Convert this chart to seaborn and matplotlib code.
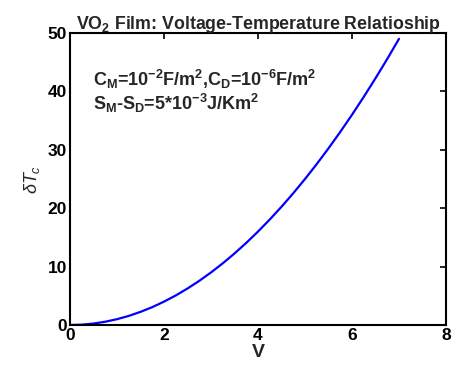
import numpy as np
import pandas as pd
import matplotlib
matplotlib.use('Agg')
import matplotlib.pyplot as plt
import seaborn as sns

# values
voltage = [0.0, 0.25, 0.5, 0.75, 1.0, 1.25, 1.5, 1.75, 2.0, 2.25, 2.5, 2.75, 3.0, 3.25, 3.5,
           3.75, 4.0, 4.25, 4.5, 4.75, 5.0, 5.25, 5.5, 5.75, 6.0, 6.25, 6.5, 6.75, 7.0]
delta_tc = [0.0, 0.06, 0.25, 0.56, 1.0, 1.56, 2.25, 3.06, 4.0, 5.06, 6.25, 7.56, 9.0, 10.56, 12.25,
            14.06, 16.0, 18.06, 20.25, 22.56, 25.0, 27.56, 30.25, 33.06, 36.0, 39.06, 42.25, 45.56, 49.0]
x_ticks = [0, 2, 4, 6, 8]
y_ticks = [0, 10, 20, 30, 40, 50]

sns.set_theme(style='white')
plt.rcParams['font.family'] = ['Liberation Sans', 'DejaVu Sans']
plt.rcParams['mathtext.fontset'] = 'custom'
plt.rcParams['mathtext.rm'] = 'Liberation Sans:bold'
plt.rcParams['mathtext.bf'] = 'Liberation Sans:bold'
plt.rcParams['mathtext.it'] = 'Liberation Sans:italic'
plt.rcParams['mathtext.default'] = 'bf'

df = pd.DataFrame({'V': voltage, 'dTc': delta_tc})

fig = plt.figure(figsize=(4.53, 3.67), dpi=100)
ax = fig.add_axes([0.1545, 0.1144, 0.83, 0.7956])

sns.lineplot(data=df, x='V', y='dTc', color='#0000ff', linewidth=1.6, ax=ax)

ax.set_xlim(0, 8)
ax.set_ylim(0, 50)
ax.set_xticks(x_ticks)
ax.set_yticks(y_ticks)
ax.tick_params(direction='in', length=4, width=1.2, top=True, right=True,
               labelsize=12.5, pad=2, colors='black')
for lab in ax.get_xticklabels() + ax.get_yticklabels():
    lab.set_fontweight('bold')
for sp in ax.spines.values():
    sp.set_color('black')
    sp.set_linewidth(1.5)

ax.set_xlabel('V', fontsize=14, fontweight='bold', labelpad=1)
ax.set_ylabel(r'$\mathit{\delta T_c}$', fontsize=13, labelpad=4)
ax.set_title(r'VO$_2$ Film: Voltage-Temperature Relatioship', fontsize=12.8,
             fontweight='bold', pad=3)

ax.text(0.06, 0.82, r'C$_M$=10$^{-2}$F/m$^2$,C$_D$=10$^{-6}$F/m$^2$',
        transform=ax.transAxes, fontsize=13, fontweight='bold')
ax.text(0.06, 0.735, r'S$_M$-S$_D$=5*10$^{-3}$J/Km$^2$',
        transform=ax.transAxes, fontsize=13, fontweight='bold')

fig.savefig('out.png', dpi=100)
